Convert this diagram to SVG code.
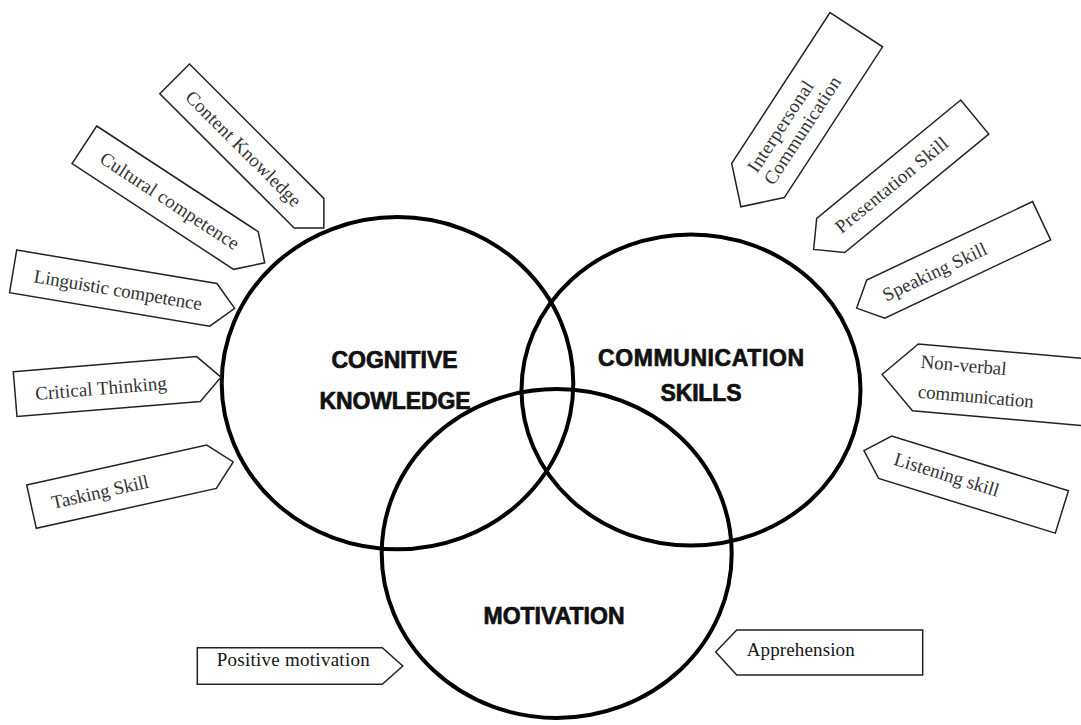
<svg xmlns="http://www.w3.org/2000/svg" width="1081" height="725" viewBox="0 0 1081 725">
<style>
.ring{fill:none;stroke:#000;stroke-width:4}
.box{fill:#fff;stroke:#222;stroke-width:1.5;stroke-linejoin:miter}
.lbl{font-family:"Liberation Serif","Times New Roman",serif;font-size:19px;fill:#333}
.mid{text-anchor:middle}
.dark{fill:#151515}
.title{font-family:"Liberation Sans",Arial,sans-serif;font-weight:bold;font-size:23px;fill:#111;stroke:#111;stroke-width:0.7;text-anchor:middle}
</style>
<rect width="1081" height="725" fill="#fff"/>

<g id="connectors"/>

<g id="cognitive-knowledge">
<ellipse class="ring" cx="397.5" cy="383.2" rx="175.8" ry="166.1"/>
</g>
<g id="communication-skills">
<ellipse class="ring" cx="691" cy="390" rx="169.5" ry="155.5"/>
</g>
<g id="motivation">
<ellipse class="ring" cx="556.7" cy="553.5" rx="175" ry="164.5"/>
</g>

<g id="titles">
<text class="title" x="394.5" y="368" textLength="126">COGNITIVE</text>
<text class="title" x="395" y="408.5" textLength="151">KNOWLEDGE</text>
<text class="title" x="701" y="365.5" textLength="206">COMMUNICATION</text>
<text class="title" x="701" y="400.5" textLength="81">SKILLS</text>
<text class="title" x="554" y="624" textLength="141">MOTIVATION</text>
</g>

<g id="content-knowledge" transform="translate(189.5,64) rotate(45)">
<polygon class="box" points="0,0 190,0 211,21 190,42 0,42"/>
<text class="lbl mid" x="98" y="28" textLength="155">Content Knowledge</text>
</g>
<g id="cultural-competence" transform="translate(96.7,126) rotate(33.2)">
<polygon class="box" points="0,0 193,0 215.5,22.5 193,45 0,45"/>
<text class="lbl mid" x="102" y="29" textLength="162">Cultural competence</text>
</g>
<g id="linguistic-competence" transform="translate(16.7,250) rotate(9.5)">
<polygon class="box" points="0,0 203,0 224.6,21.6 203,43.3 0,43.3"/>
<text class="lbl mid" x="106.5" y="29" textLength="170">Linguistic competence</text>
</g>
<g id="critical-thinking" transform="translate(13.3,371.7) rotate(-4.7)">
<polygon class="box" points="0,0 184,0 206.5,22.5 184,45 0,45"/>
<text class="lbl mid" x="86" y="30" textLength="132">Critical Thinking</text>
</g>
<g id="tasking-skill" transform="translate(26.7,485) rotate(-12.5)">
<polygon class="box" points="0,0 184.4,0 206.6,22.2 184.4,44.4 0,44.4"/>
<text class="lbl mid" x="70" y="29" textLength="99">Tasking Skill</text>
</g>

<g id="interpersonal-communication" transform="translate(731.7,163.3) rotate(-56.9)">
<polygon class="box" points="-31.4,31.4 0,0 180,0 180,62.8 0,62.8"/>
<text class="lbl" x="5" y="27" textLength="105">Interpersonal</text>
<text class="lbl" x="3.5" y="47.5" textLength="125">Communication</text>
</g>
<g id="presentation-skill" transform="translate(816.7,218.3) rotate(-39.4)">
<polygon class="box" points="-22.1,22.1 0,0 186.4,0 186.4,44.2 0,44.2"/>
<text class="lbl mid" x="79" y="28" textLength="140">Presentation Skill</text>
</g>
<g id="speaking-skill" transform="translate(866.7,280) rotate(-25.3)">
<polygon class="box" points="-21.15,21.15 0,0 183.5,0 183.5,42.3 0,42.3"/>
<text class="lbl mid" x="65" y="28" textLength="113">Speaking Skill</text>
</g>
<g id="non-verbal-communication" transform="translate(918.3,344) rotate(5)">
<polygon class="box" points="-33.5,33.5 0,0 175,0 175,67 0,67"/>
<text class="lbl" x="4" y="23.5" textLength="86">Non-verbal</text>
<text class="lbl" x="4" y="53.5" textLength="116">communication</text>
</g>
<g id="listening-skill" transform="translate(891.7,436) rotate(17.2)">
<polygon class="box" points="-22.2,22.2 0,0 185,0 185,44.4 0,44.4"/>
<text class="lbl mid" x="64" y="27" textLength="109">Listening skill</text>
</g>

<g id="positive-motivation" transform="translate(197.3,647.7)">
<polygon class="box" points="0,0 185,0 205.5,18.3 185,36.6 0,36.6"/>
<text class="lbl dark" x="19.4" y="18.5" textLength="153">Positive motivation</text>
</g>
<g id="apprehension" transform="translate(736.7,630)">
<polygon class="box" points="-21,22 0,0 186,0 186,45 0,45"/>
<text class="lbl dark" x="10" y="26" textLength="108">Apprehension</text>
</g>
</svg>
